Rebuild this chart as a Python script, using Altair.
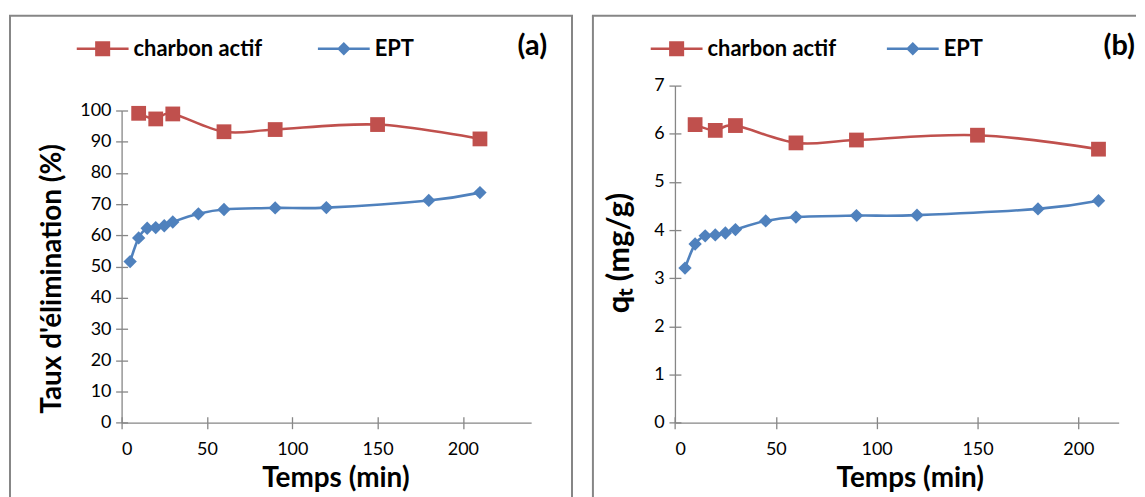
import altair as alt
import pandas as pd

SERIES = ["charbon actif", "EPT"]
COLORS = ["#C0504D", "#4F81BD"]
PANEL_TAGS = ["(a)", "(b)"]
Y_TITLES = ["Taux d'élimination (%)", "qₜ (mg/g)"]
X_TITLE = "Temps (min)"

# time (min)
t_ca = [10, 20, 30, 60, 90, 150, 210]
t_ept = [5, 10, 15, 20, 25, 30, 45, 60, 90, 120, 180, 210]
# (a) taux d'élimination (%)
taux_ca = [99.1, 97.3, 98.9, 93.2, 93.9, 95.5, 90.9]
taux_ept = [51.6, 59.2, 62.3, 62.5, 63.1, 64.3, 66.9, 68.3, 68.8, 68.9, 71.2, 73.7]
# (b) qt (mg/g)
qt_ca = [6.19, 6.07, 6.17, 5.81, 5.87, 5.97, 5.68]
qt_ept = [3.21, 3.71, 3.88, 3.90, 3.94, 4.01, 4.19, 4.27, 4.30, 4.31, 4.44, 4.61]

x_ticks = [0, 50, 100, 150, 200]
y_ticks_a = list(range(0, 101, 10))
y_ticks_b = list(range(0, 8))

FONT = "Lato"
GREY = "#868686"
H = 472
AXIS_Y = 409.3
XOFF = AXIS_Y - H

PATH_SQ = "M-1,-0.05H1V0.05H-1Z M-0.29,-0.29H0.29V0.29H-0.29Z"
PATH_DM = "M-1,-0.05H1V0.05H-1Z M0,-0.26L0.26,0L0,0.26L-0.26,0Z"


def panel(tv1, v1, tv2, v2, W, xdom, xrange, ydom, yrange, yvals, ytitle, ytsize,
          ytx, yty, xtx, tag, tag_x, leg_x, col_pad, right_border):
    d1 = pd.DataFrame({"t": tv1, "v": v1})
    d2 = pd.DataFrame({"t": tv2, "v": v2})
    leg_df = pd.DataFrame({"series": SERIES})
    yaxis_x = xrange[0]

    xs = alt.Scale(domain=xdom, range=xrange, nice=False, zero=False)
    ys = alt.Scale(domain=ydom, range=yrange, nice=False)
    x = alt.X("t:Q", scale=xs,
              axis=alt.Axis(values=x_ticks, title=X_TITLE, offset=XOFF,
                            titleX=xtx, titleY=63.7, titleAlign="center",
                            titleFontSize=28,
                            titleBaseline="alphabetic", labelBaseline="alphabetic",
                            labelPadding=25.7))
    y = alt.Y("v:Q", scale=ys,
              axis=alt.Axis(values=yvals, title=None, offset=-yaxis_x,
                            labelPadding=4.7))

    base1 = alt.Chart(d1).encode(x=x, y=y)
    base2 = alt.Chart(d2).encode(x=x, y=y)
    l1 = base1.mark_line(color=COLORS[0], strokeWidth=2.6, interpolate="cardinal")
    l2 = base2.mark_line(color=COLORS[1], strokeWidth=2.6, interpolate="cardinal")
    p1 = base1.mark_point(shape="square", filled=True, size=220, color=COLORS[0], opacity=1)
    p2 = base2.mark_point(shape="diamond", filled=True, size=180, color=COLORS[1], opacity=1)

    legend = alt.Legend(title=None, orient="none", legendX=leg_x, legendY=8,
                        direction="horizontal", symbolSize=2704, symbolStrokeWidth=0,
                        symbolOpacity=1, labelFont=FONT, labelFontSize=22,
                        labelFontWeight="bold", labelColor="black", labelOffset=5,
                        columnPadding=col_pad, padding=0, labelLimit=0)
    leg = alt.Chart(leg_df).mark_point(filled=True, opacity=0).encode(
        color=alt.Color("series:N", scale=alt.Scale(domain=SERIES, range=COLORS), legend=legend),
        shape=alt.Shape("series:N", scale=alt.Scale(domain=SERIES, range=[PATH_SQ, PATH_DM]), legend=legend),
    )

    frame = alt.Chart(pd.DataFrame({"tag": [tag], "ytitle": [ytitle]}))
    rules = [
        frame.mark_rule(color=GREY, strokeWidth=2).encode(
            x=alt.value(1), y=alt.value(1), y2=alt.value(H + 12)),
        frame.mark_rule(color=GREY, strokeWidth=2).encode(
            x=alt.value(0), x2=alt.value(W), y=alt.value(1)),
    ]
    if right_border:
        rules.append(frame.mark_rule(color=GREY, strokeWidth=2).encode(
            x=alt.value(W - 1), y=alt.value(1), y2=alt.value(H + 12)))
    tag_text = frame.mark_text(align="right", baseline="alphabetic", font=FONT,
                               fontSize=29, fontWeight="bold", color="black").encode(
        x=alt.value(tag_x), y=alt.value(40), text="tag:N")
    ytitle_text = frame.mark_text(align="center", baseline="middle", angle=270, font=FONT,
                                  fontSize=ytsize, fontWeight="bold", color="black").encode(
        x=alt.value(ytx), y=alt.value(yty), text="ytitle:N")

    main = alt.layer(*rules, l1, l2, p1, p2, leg, tag_text, ytitle_text)

    # inward half of the crossing tick marks
    ticks = alt.Chart(d1).mark_point(opacity=0).encode(
        x=alt.X("t:Q", scale=xs,
                axis=alt.Axis(orient="top", values=x_ticks, offset=-AXIS_Y, labels=False,
                              domain=False, title=None)),
        y=alt.Y("v:Q", scale=ys,
                axis=alt.Axis(orient="right", values=yvals, offset=-(W - yaxis_x),
                              labels=False, domain=False, title=None)),
    )

    return alt.layer(main, ticks).resolve_scale(x="independent", y="independent").properties(
        width=W, height=H)


left = panel(t_ca, taux_ca, t_ept, taux_ept, 566, [0, 240], [113, 524],
             [0, 100], [AXIS_Y, 96], y_ticks_a, Y_TITLES[0], 28,
             44, 265, 327.5, PANEL_TAGS[0], 540, 68, 55, True)
right = panel(t_ca, qt_ca, t_ept, qt_ept, 546, [0, 220], [83.3, 528.6],
              [0, 7], [AXIS_Y, 71], y_ticks_b, Y_TITLES[1], 31,
              28, 239, 319, PANEL_TAGS[1], 545, 59, 50, False)

chart = alt.hconcat(left, right, spacing=17).resolve_scale(
    color="independent", shape="independent", x="independent", y="independent"
).resolve_legend(color="independent", shape="independent").properties(
    padding={"left": 0, "top": 6, "right": 0, "bottom": 0}
).configure_view(stroke=None).configure_axis(
    grid=False, domainColor=GREY, domainWidth=1.3, tickColor=GREY, tickWidth=1.3,
    tickSize=6, labelFont=FONT, labelFontSize=18, labelColor="black",
    titleFont=FONT, titleFontWeight="bold", titleColor="black",
)

chart.save("out.html", embed_options={"renderer": "svg", "actions": False})
